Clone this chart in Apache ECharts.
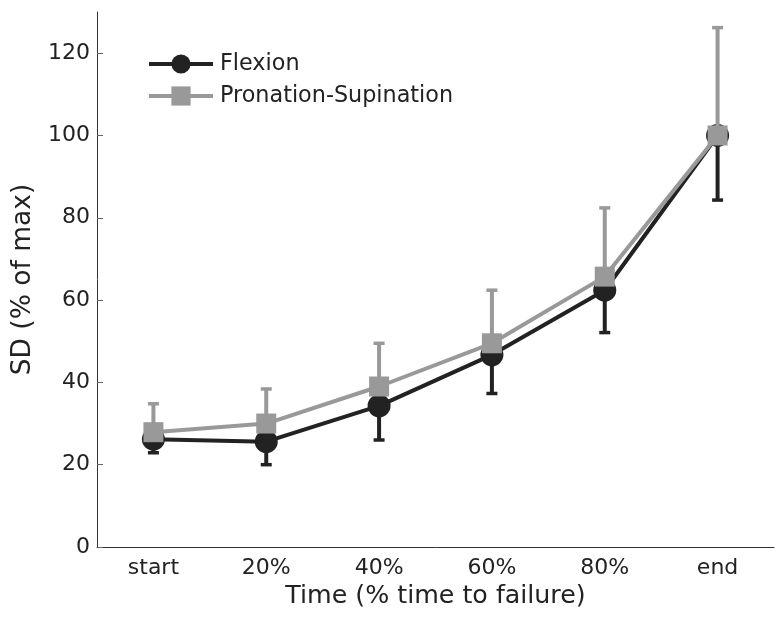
<!DOCTYPE html>
<html>
<head>
<meta charset="utf-8">
<script src="https://cdn.jsdelivr.net/npm/echarts@6/dist/echarts.min.js"></script>
<style>html,body{margin:0;padding:0;background:#fff;}#chart{width:784px;height:620px;}</style>
</head>
<body>
<div id="chart"></div>
<script>
const categories = ['start', '20%', '40%', '60%', '80%', 'end'];
const flexion = [26.2, 25.6, 34.3, 46.7, 62.4, 100];
const flexionLower = [22.9, 20.0, 26.0, 37.3, 52.1, 84.3];
const pronation = [27.9, 30.0, 39.0, 49.5, 65.7, 100];
const pronationUpper = [34.8, 38.4, 49.5, 62.4, 82.4, 126.2];
const yTicks = [0, 20, 40, 60, 80, 100, 120];

const BLACK = '#222222';
const GRAY = '#999999';
const FONT = 'DejaVu Sans';

function errData(center, end) {
  return center.map((c, i) => [i, c, end[i]]);
}
function errRender(color) {
  return function (params, api) {
    const p0 = api.coord([api.value(0), api.value(1)]);
    const p1 = api.coord([api.value(0), api.value(2)]);
    const hw = 5.5;
    return {
      type: 'group',
      children: [
        { type: 'line', shape: { x1: p0[0], y1: p0[1], x2: p1[0], y2: p1[1] }, style: { stroke: color, lineWidth: 4 } },
        { type: 'line', shape: { x1: p1[0] - hw, y1: p1[1], x2: p1[0] + hw, y2: p1[1] }, style: { stroke: color, lineWidth: 3.5 } }
      ]
    };
  };
}

const chart = echarts.init(document.getElementById('chart'));
chart.setOption({
  animation: false,
  textStyle: { fontFamily: FONT },
  grid: { left: 97, right: 10, top: 12, bottom: 73, containLabel: false, outerBoundsMode: 'none' },
  legend: {
    orient: 'vertical', left: 147, top: 52, padding: 0, itemWidth: 64, itemHeight: 24, itemGap: 8,
    textStyle: { fontFamily: FONT, fontSize: 22.3, color: '#222', lineHeight: 24, padding: [0, 0, 0, 2] },
    data: [
      { name: 'Flexion', lineStyle: { width: 4 } },
      { name: 'Pronation-Supination', lineStyle: { width: 4 } }
    ]
  },
  xAxis: {
    type: 'category', data: categories, boundaryGap: true,
    name: 'Time (% time to failure)', nameLocation: 'middle', nameGap: 37,
    nameTextStyle: { fontFamily: FONT, fontSize: 25.3, color: '#222' },
    axisLine: { lineStyle: { color: '#333', width: 1 } },
    axisTick: { alignWithLabel: true, inside: true, length: 6, lineStyle: { color: '#666' } },
    axisLabel: { fontFamily: FONT, fontSize: 22, color: '#222', margin: 10 },
    splitLine: { show: false }
  },
  yAxis: {
    type: 'value', min: 0, max: 130, interval: 20,
    name: 'SD (% of max)', nameLocation: 'middle', nameGap: 59, nameRotate: 90,
    nameTextStyle: { fontFamily: FONT, fontSize: 26.5, color: '#222' },
    axisLine: { show: true, lineStyle: { color: '#333', width: 1 } },
    axisTick: { show: true, inside: true, length: 6, lineStyle: { color: '#666' }, customValues: yTicks },
    axisLabel: { fontFamily: FONT, fontSize: 22, color: '#222', margin: 7, customValues: yTicks },
    splitLine: { show: false }
  },
  series: [
    {
      name: 'Flexion-err', type: 'custom', renderItem: errRender(BLACK),
      data: errData(flexion, flexionLower), encode: { x: 0, y: [1, 2] }, z: 2
    },
    {
      name: 'Flexion', type: 'line', data: flexion, symbol: 'circle', symbolSize: 23,
      lineStyle: { color: BLACK, width: 4 }, itemStyle: { color: BLACK }, z: 3
    },
    {
      name: 'Pronation-err', type: 'custom', renderItem: errRender(GRAY),
      data: errData(pronation, pronationUpper), encode: { x: 0, y: [1, 2] }, z: 4
    },
    {
      name: 'Pronation-Supination', type: 'line', data: pronation, symbol: 'rect', symbolSize: 20,
      lineStyle: { color: GRAY, width: 4 }, itemStyle: { color: GRAY }, z: 5
    }
  ]
});
</script>
</body>
</html>
